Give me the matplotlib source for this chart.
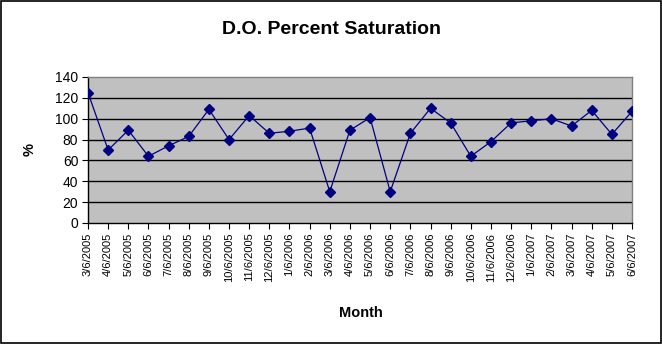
import matplotlib
matplotlib.use("Agg")
import matplotlib.pyplot as plt
from matplotlib.patches import Rectangle

dates = ["3/6/2005", "4/6/2005", "5/6/2005", "6/6/2005", "7/6/2005", "8/6/2005",
         "9/6/2005", "10/6/2005", "11/6/2005", "12/6/2005", "1/6/2006", "2/6/2006",
         "3/6/2006", "4/6/2006", "5/6/2006", "6/6/2006", "7/6/2006", "8/6/2006",
         "9/6/2006", "10/6/2006", "11/6/2006", "12/6/2006", "1/6/2007", "2/6/2007",
         "3/6/2007", "4/6/2007", "5/6/2007", "6/6/2007"]
saturation = [125, 70, 89, 64, 74, 83, 109, 80, 103, 86, 88, 91, 30, 89, 101, 30,
              86, 110, 96, 64, 78, 96, 98, 100, 93, 108, 85, 107]
yticks = [0, 20, 40, 60, 80, 100, 120, 140]

plt.rcParams['font.family'] = ['Liberation Sans', 'DejaVu Sans']

fig = plt.figure(figsize=(6.62, 3.44), dpi=100)
fig.patch.set_facecolor('white')
fig.patches.append(Rectangle((0.001, 0.002), 0.997, 0.995, transform=fig.transFigure,
                             fill=False, edgecolor='black', linewidth=1.2))

ax = fig.add_axes([88/662, 1-223/344, (632-88)/662, (223-77)/344])
ax.set_facecolor('#c0c0c0')
x = list(range(len(dates)))
ax.plot(x, saturation, color='#000080', linewidth=0.9, marker='D', markersize=5,
        markerfacecolor='#000080', markeredgecolor='#000080', zorder=3)
ax.set_xlim(0, len(dates) - 1)
ax.set_ylim(0, 140)
ax.set_yticks(yticks)
ax.set_yticklabels([str(v) for v in yticks], fontsize=10)
for v in yticks[1:-1]:
    ax.axhline(v, color='black', linewidth=1.0, zorder=1)
ax.set_xticks(x)
ax.set_xticklabels(dates, rotation=90, fontsize=8)
ax.tick_params(axis='x', direction='out', length=4, width=0.8, pad=3)
ax.tick_params(axis='y', direction='out', length=4, width=0.8, pad=3)
for side in ['left', 'bottom']:
    ax.spines[side].set_color('black')
    ax.spines[side].set_linewidth(1.0)
for side in ['top', 'right']:
    ax.spines[side].set_color('#808080')
    ax.spines[side].set_linewidth(1.0)

fig.text(331/662, 1-30/344, "D.O. Percent Saturation", ha='center', va='center',
         fontsize=14, fontweight='bold')
fig.text(361/662, 1-313/344, "Month", ha='center', va='center',
         fontsize=10.5, fontweight='bold')
fig.text(30/662, 1-150/344, "%", ha='center', va='center', rotation=90,
         fontsize=10.5, fontweight='bold')

fig.savefig("out.png", dpi=100)
